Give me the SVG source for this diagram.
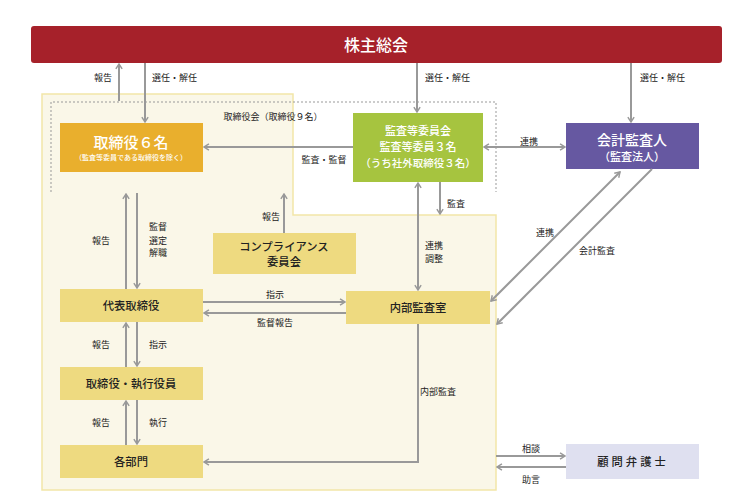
<svg xmlns="http://www.w3.org/2000/svg" width="751" height="501" viewBox="0 0 751 501">
<style>
text{font-family:"Noto Sans CJK JP","Noto Sans",sans-serif;}
.lbl{font-size:9px;fill:#222;}
.nt{font-size:11.3px;fill:#222;text-anchor:middle;font-weight:500;}
.wt{fill:#fff;text-anchor:middle;font-weight:500;}
.ln{stroke:#999;stroke-width:2;fill:none;}
.ye{fill:#EEDA80;}
</style>
<defs>
<marker id="a" viewBox="0 0 10 10" refX="9" refY="5" markerWidth="9" markerHeight="9" markerUnits="userSpaceOnUse" orient="auto-start-reverse">
<path d="M3.5,1.5 L9,5 L3.5,8.5" fill="none" stroke="#999" stroke-width="1.6"/>
</marker>
</defs>
<rect width="751" height="501" fill="#fff"/>
<path id="company" d="M42,94 H293 V215 H496 V490 H42 Z" fill="#FAF7E8" stroke="#F2E6A8" stroke-width="1.5"/>
<path id="board" d="M51,192 V102 H496 V192" fill="none" stroke="#999" stroke-width="1" stroke-dasharray="2,2"/>
<text class="lbl" x="273" y="120" text-anchor="middle">取締役会（取締役９名）</text>
<g id="kabunushi"><rect x="31" y="26" width="691" height="37" rx="3" fill="#A6212A"/><text class="wt" x="376" y="51" font-size="16" font-weight="bold">株主総会</text></g>
<g id="torishimari"><rect x="60" y="123" width="143" height="49" fill="#E9AF2D"/><text class="wt" x="131" y="148" font-size="15">取締役６名</text><text class="wt" x="131" y="160" font-size="7">（監査等委員である取締役を除く）</text></g>
<g id="kansa"><rect x="353" y="113" width="130" height="69" fill="#A6C43F"/><text class="wt" x="418" y="135" font-size="11">監査等委員会</text><text class="wt" x="418" y="151" font-size="11">監査等委員３名</text><text class="wt" x="418" y="167" font-size="10.5">（うち社外取締役３名）</text></g>
<g id="kaikei"><rect x="566" y="123" width="133" height="46" fill="#6658A1"/><text class="wt" x="632" y="145" font-size="14">会計監査人</text><text class="wt" x="632" y="161" font-size="11">（監査法人）</text></g>
<g id="daihyo"><rect class="ye" x="60" y="289" width="143" height="33"/><text class="nt" x="131" y="310">代表取締役</text></g>
<g id="compliance"><rect class="ye" x="213" y="233" width="143" height="41"/><text class="nt" x="284" y="251">コンプライアンス</text><text class="nt" x="284" y="266">委員会</text></g>
<g id="naibu"><rect class="ye" x="346" y="291" width="144" height="33"/><text class="nt" x="418" y="312">内部監査室</text></g>
<g id="shikko"><rect class="ye" x="60" y="367" width="143" height="33"/><text class="nt" x="131" y="388">取締役・執行役員</text></g>
<g id="bumon"><rect class="ye" x="60" y="445" width="143" height="33"/><text class="nt" x="131" y="466">各部門</text></g>
<g id="bengoshi"><rect x="566" y="444" width="133" height="35" fill="#DFE0F0"/><text class="nt" x="633" y="466" letter-spacing="3">顧問弁護士</text></g>
<g id="connectors">
<line class="ln" x1="119" y1="101" x2="119" y2="64" marker-end="url(#a)"/>
<line class="ln" x1="145" y1="63" x2="145" y2="122" marker-end="url(#a)"/>
<line class="ln" x1="417" y1="63" x2="417" y2="112" marker-end="url(#a)"/>
<line class="ln" x1="631" y1="63" x2="631" y2="122" marker-end="url(#a)"/>
<line class="ln" x1="353" y1="147" x2="204" y2="147" marker-end="url(#a)"/>
<line class="ln" x1="484" y1="147" x2="565" y2="147" marker-start="url(#a)" marker-end="url(#a)"/>
<line class="ln" x1="418" y1="183" x2="418" y2="290" marker-start="url(#a)" marker-end="url(#a)"/>
<line class="ln" x1="440" y1="182" x2="440" y2="214" marker-end="url(#a)"/>
<line class="ln" x1="491" y1="301" x2="620" y2="172" marker-start="url(#a)" marker-end="url(#a)"/>
<line class="ln" x1="652" y1="169" x2="497" y2="324" marker-end="url(#a)"/>
<line class="ln" x1="126" y1="289" x2="126" y2="194" marker-end="url(#a)"/>
<line class="ln" x1="137" y1="193" x2="137" y2="288" marker-end="url(#a)"/>
<line class="ln" x1="284" y1="233" x2="284" y2="194" marker-end="url(#a)"/>
<line class="ln" x1="203" y1="302" x2="345" y2="302" marker-end="url(#a)"/>
<line class="ln" x1="346" y1="313" x2="204" y2="313" marker-end="url(#a)"/>
<line class="ln" x1="126" y1="367" x2="126" y2="323" marker-end="url(#a)"/>
<line class="ln" x1="137" y1="322" x2="137" y2="366" marker-end="url(#a)"/>
<line class="ln" x1="126" y1="445" x2="126" y2="401" marker-end="url(#a)"/>
<line class="ln" x1="137" y1="400" x2="137" y2="444" marker-end="url(#a)"/>
<polyline class="ln" points="418,324 418,462 204,462" marker-end="url(#a)"/>
<line class="ln" x1="496" y1="456" x2="565" y2="456" marker-end="url(#a)"/>
<line class="ln" x1="566" y1="467" x2="497" y2="467" marker-end="url(#a)"/>
</g>
<g id="labels">
<text class="lbl" x="103" y="81" text-anchor="middle">報告</text>
<text class="lbl" x="152" y="81">選任・解任</text>
<text class="lbl" x="425" y="81">選任・解任</text>
<text class="lbl" x="640" y="81">選任・解任</text>
<text class="lbl" x="324" y="163" text-anchor="middle">監査・監督</text>
<text class="lbl" x="529" y="145" text-anchor="middle">連携</text>
<text class="lbl" x="425" y="249">連携</text>
<text class="lbl" x="425" y="262">調整</text>
<text class="lbl" x="447" y="207">監査</text>
<text class="lbl" x="545" y="236" text-anchor="middle">連携</text>
<text class="lbl" x="597" y="254" text-anchor="middle">会計監査</text>
<text class="lbl" x="101" y="244" text-anchor="middle">報告</text>
<text class="lbl" x="158" y="230" text-anchor="middle">監督</text>
<text class="lbl" x="158" y="244" text-anchor="middle">選定</text>
<text class="lbl" x="158" y="256" text-anchor="middle">解職</text>
<text class="lbl" x="271" y="220" text-anchor="middle">報告</text>
<text class="lbl" x="275" y="298" text-anchor="middle">指示</text>
<text class="lbl" x="275" y="326" text-anchor="middle">監督報告</text>
<text class="lbl" x="101" y="348" text-anchor="middle">報告</text>
<text class="lbl" x="158" y="348" text-anchor="middle">指示</text>
<text class="lbl" x="101" y="426" text-anchor="middle">報告</text>
<text class="lbl" x="158" y="426" text-anchor="middle">執行</text>
<text class="lbl" x="420" y="395">内部監査</text>
<text class="lbl" x="531" y="452" text-anchor="middle">相談</text>
<text class="lbl" x="531" y="483" text-anchor="middle">助言</text>
</g>
</svg>
